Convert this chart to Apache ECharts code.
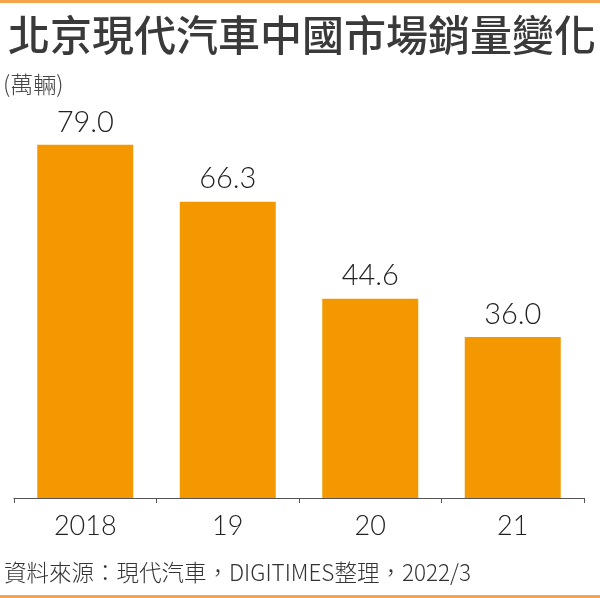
<!DOCTYPE html>
<html>
<head>
<meta charset="utf-8">
<script src="https://cdn.jsdelivr.net/npm/echarts@6/dist/echarts.min.js"></script>
<style>
  html, body { margin: 0; padding: 0; background: #fff; }
  #main { width: 600px; height: 598px; }
</style>
</head>
<body>
<div id="main"></div>
<script>
var years = ['2018', '19', '20', '21'];
var sales = [79.0, 66.3, 44.6, 36.0];

var barColor = '#F39800';
var lineColor = '#F7A34B';

var chart = echarts.init(document.getElementById('main'));

var option = {
    backgroundColor: '#fff',
    animation: false,
    title: {
        text: '北京現代汽車中國市場銷量變化',
        left: 3,
        top: 9,
        textStyle: {
            fontFamily: 'Noto Sans CJK TC',
            fontSize: 42,
            fontWeight: 500,
            color: '#3a3a3a'
        }
    },
    graphic: [
        { type: 'rect', shape: { x: 0, y: 0, width: 600, height: 3 }, style: { fill: lineColor } },
        { type: 'rect', shape: { x: 0, y: 595, width: 600, height: 3 }, style: { fill: lineColor } },
        {
            type: 'text', left: 3, top: 73,
            style: { text: '(萬輛)', font: '300 23px "Noto Sans CJK TC"', fill: '#444' }
        },
        {
            type: 'text', left: 4, top: 561,
            style: { text: '資料來源：現代汽車，DIGITIMES整理，2022/3', font: '300 22.5px "Noto Sans CJK TC"', fill: '#333' }
        }
    ],
    grid: { left: 14, right: 16, top: 51, bottom: 100 },
    xAxis: {
        type: 'category',
        data: years,
        axisLine: { lineStyle: { color: '#555', width: 1.2 } },
        axisTick: { show: true, length: 5, lineStyle: { color: '#555' } },
        axisLabel: {
            margin: 15,
            fontFamily: 'Lato',
            fontWeight: 300,
            fontSize: 27,
            color: '#222'
        }
    },
    yAxis: {
        type: 'value',
        min: 0,
        max: 100,
        show: false,
        splitLine: { show: false }
    },
    series: [{
        type: 'bar',
        data: sales,
        barWidth: 96,
        itemStyle: { color: barColor },
        label: {
            show: true,
            position: 'top',
            distance: 8,
            formatter: function (p) { return p.value.toFixed(1); },
            fontFamily: 'Lato',
            fontWeight: 300,
            fontSize: 29,
            color: '#222'
        }
    }]
};

chart.setOption(option);
</script>
</body>
</html>
